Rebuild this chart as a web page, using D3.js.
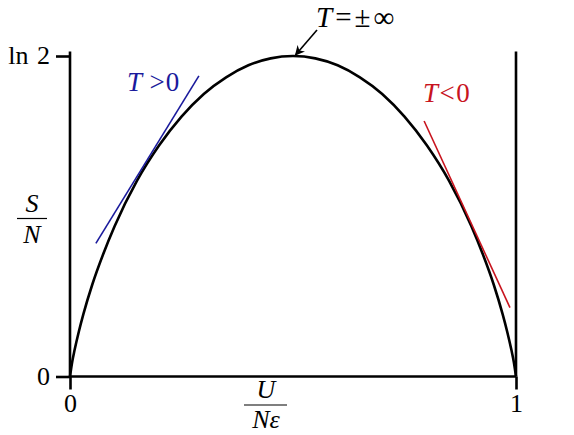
<!DOCTYPE html>
<html><head><meta charset="utf-8">
<script src="https://cdn.jsdelivr.net/npm/d3@7"></script>
<style>
html,body{margin:0;padding:0;background:#fff;}
svg text{font-family:'Liberation Serif','DejaVu Serif','Times New Roman',serif;}
</style></head>
<body>
<svg id="c" width="574" height="435"></svg>
<script>
// Curve: energy per particle U/(N eps) vs entropy S/N
const uValues = [0,0.005,0.01,0.02,0.03,0.05,0.075,0.1,0.15,0.2,0.25,0.3,0.35,0.4,0.45,0.5,0.55,0.6,0.65,0.7,0.75,0.8,0.85,0.9,0.925,0.95,0.97,0.98,0.99,0.995,1];
const sValues = [0,0.032,0.056,0.098,0.135,0.199,0.266,0.325,0.423,0.500,0.562,0.611,0.647,0.673,0.688,0.693,0.688,0.673,0.647,0.611,0.562,0.500,0.423,0.325,0.266,0.199,0.135,0.098,0.056,0.032,0];
// tangent segments (endpoints)
const tanPosU = [0.058, 0.289];
const tanPosS = [0.288, 0.650];
const tanNegU = [0.794, 0.9865];
const tanNegS = [0.5525, 0.149];
const yTickValues = [0, Math.LN2];
const yTickLabels = ["0", "ln 2"];
const xTickValues = [0, 1];
const xTickLabels = ["0", "1"];

const FONT = "'Liberation Serif','DejaVu Serif','Times New Roman',serif";
const svg = d3.select("#c");
const x = d3.scaleLinear().domain([0,1]).range([70,516]);
const y = d3.scaleLinear().domain([0,Math.LN2]).range([376.5,56]);

// frame lines
svg.append("line").attr("x1",x(0)).attr("x2",x(0)).attr("y1",y(0)).attr("y2",51.5)
  .attr("stroke","#000").attr("stroke-width",2.6);
svg.append("line").attr("x1",x(1)).attr("x2",x(1)).attr("y1",y(0)).attr("y2",51.5)
  .attr("stroke","#000").attr("stroke-width",2.6);
svg.append("line").attr("x1",x(0)).attr("x2",x(1)).attr("y1",y(0)).attr("y2",y(0))
  .attr("stroke","#000").attr("stroke-width",2.6);

// y axis ticks
const ya = svg.append("g").attr("transform",`translate(${x(0)},0)`)
  .call(d3.axisLeft(y).tickValues(yTickValues).tickSizeInner(14).tickSizeOuter(0)
    .tickPadding(6).tickFormat((d,i)=>yTickLabels[i]));
ya.select(".domain").remove();
ya.selectAll(".tick line").attr("stroke","#000").attr("stroke-width",2.6);
ya.selectAll(".tick text").attr("font-size",26).attr("fill","#000")
  .attr("font-family",FONT).attr("dy","0.3em").attr("word-spacing",2);

// x axis ticks
const xa = svg.append("g").attr("transform",`translate(0,${y(0)})`)
  .call(d3.axisBottom(x).tickValues(xTickValues).tickSizeInner(13).tickSizeOuter(0)
    .tickPadding(4).tickFormat((d,i)=>xTickLabels[i]));
xa.select(".domain").remove();
xa.selectAll(".tick line").attr("stroke","#000").attr("stroke-width",2.6);
xa.selectAll(".tick text").attr("font-size",26).attr("fill","#000")
  .attr("font-family",FONT);

// curve
const pts = uValues.map((u,i)=>[u,sValues[i]]);
svg.append("path").datum(pts)
  .attr("d", d3.line().x(d=>x(d[0])).y(d=>y(d[1])).curve(d3.curveMonotoneX))
  .attr("fill","none").attr("stroke","#000").attr("stroke-width",2.6);

// tangents
svg.append("line").attr("x1",x(tanPosU[0])).attr("y1",y(tanPosS[0]))
  .attr("x2",x(tanPosU[1])).attr("y2",y(tanPosS[1]))
  .attr("stroke","#1a1a9c").attr("stroke-width",1.6);
svg.append("line").attr("x1",x(tanNegU[0])).attr("y1",y(tanNegS[0]))
  .attr("x2",x(tanNegU[1])).attr("y2",y(tanNegS[1]))
  .attr("stroke","#c8141e").attr("stroke-width",1.6);

// labels
function label(xp, yp, parts, size, color, anchor, ls){
  const t = svg.append("text").attr("x",xp).attr("y",yp).attr("font-size",size)
    .attr("fill",color).attr("text-anchor",anchor||"start").attr("font-family",FONT);
  if (ls) t.attr("letter-spacing", ls);
  parts.forEach(p=>{
    t.append("tspan").text(p[0]).attr("font-style",p[1]?"italic":"normal");
  });
  return t;
}
label(127, 91, [["T",1],["\u2009>0",0]], 27, "#1a1a9c", "start", 1);
label(423, 102, [["T",1],["<0",0]], 27, "#c8141e", "start", 1.5);
label(316, 27, [["T",1],["=\u00b1\u221e",0]], 29, "#000", "start", 3);

// y label fraction S/N
label(32, 212, [["S",1]], 26, "#000", "middle");
svg.append("line").attr("x1",17).attr("x2",47).attr("y1",218.5).attr("y2",218.5)
  .attr("stroke","#000").attr("stroke-width",1.2);
label(32, 243, [["N",1]], 26, "#000", "middle");

// x label fraction U/(N eps)
label(266, 398, [["U",1]], 26, "#000", "middle");
svg.append("line").attr("x1",244).attr("x2",287).attr("y1",405).attr("y2",405)
  .attr("stroke","#000").attr("stroke-width",1.2);
label(266, 428, [["N\u03b5",1]], 26, "#000", "middle");

// arrow
svg.append("defs").append("marker").attr("id","ah").attr("viewBox","0 0 10 10")
  .attr("refX",9).attr("refY",5).attr("markerWidth",10).attr("markerHeight",10)
  .attr("markerUnits","userSpaceOnUse").attr("orient","auto")
  .append("path").attr("d","M0,0 L10,5 L0,10 L3,5 z").attr("fill","#000");
svg.append("line").attr("x1",317).attr("y1",30).attr("x2",295.5).attr("y2",55)
  .attr("stroke","#000").attr("stroke-width",1.6).attr("marker-end","url(#ah)");
</script>
</body></html>
